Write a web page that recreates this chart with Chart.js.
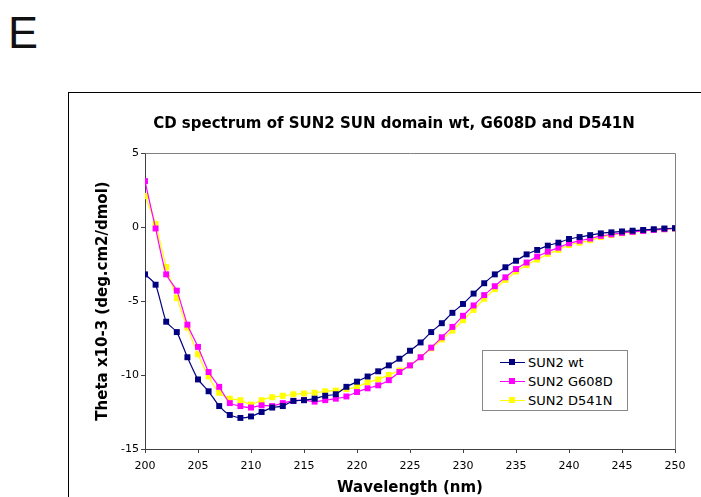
<!DOCTYPE html>
<html>
<head>
<meta charset="utf-8">
<script src="https://cdn.jsdelivr.net/npm/chart.js@4"></script>
<style>
  html, body { margin: 0; padding: 0; background: #fff; }
  #page { position: relative; width: 701px; height: 497px; overflow: hidden; font-family: "DejaVu Sans", Verdana, sans-serif; }
  #panel { position: absolute; left: 8px; top: 10px; font: 45px "Liberation Sans", Arial, sans-serif; font-weight: 400; color: #111; line-height: 1; }
  #frame { position: absolute; left: 68px; top: 92px; width: 700px; height: 500px; border: 1px solid #000; box-sizing: border-box; }
  #chart { position: absolute; left: 0; top: 0; }
  #title { position: absolute; left: 194px; width: 400px; top: 114px; text-align: center; white-space: nowrap; font-size: 15px; font-weight: bold; color: #000; }
  #title span { display: inline-block; margin: 0 -100px; }
  #legend { position: absolute; left: 482px; top: 350px; width: 146px; height: 61px; border: 1px solid #888; background: #fff; box-sizing: border-box; padding-top: 2px; }
  .row { height: 19px; display: flex; align-items: center; font-size: 13px; color: #000; }
  .key { position: relative; width: 25px; height: 1px; margin-left: 17px; margin-right: 3px; }
  .key i { position: absolute; left: 9px; top: -3px; width: 6px; height: 6px; }
</style>
</head>
<body>
<div id="page">
  <div id="panel">E</div>
  <div id="frame"></div>
  <canvas id="chart" width="701" height="497"></canvas>
  <div id="title"><span>CD spectrum of SUN2 SUN domain wt, G608D and D541N</span></div>
  <div id="legend"></div>
</div>
<script>
  // ─── Data ───
  const wavelengths = [200, 201, 202, 203, 204, 205, 206, 207, 208, 209, 210, 211, 212, 213, 214, 215, 216, 217, 218, 219,
    220, 221, 222, 223, 224, 225, 226, 227, 228, 229, 230, 231, 232, 233, 234, 235, 236, 237, 238, 239,
    240, 241, 242, 243, 244, 245, 246, 247, 248, 249, 250];
  const sun2Wt = [-3.2, -3.9, -6.4, -7.1, -8.8, -10.3, -11.1, -12.1, -12.7, -12.9, -12.8, -12.5, -12.2, -12.1, -11.75, -11.7, -11.6, -11.4, -11.3, -10.8,
    -10.45, -10.1, -9.75, -9.35, -8.9, -8.36, -7.8, -7.1, -6.5, -5.8, -5.2, -4.5, -3.8, -3.2, -2.72, -2.28, -1.85, -1.55, -1.26, -1.06,
    -0.81, -0.68, -0.55, -0.43, -0.36, -0.3, -0.25, -0.2, -0.15, -0.1, -0.08];
  const sun2G608D = [3.1, -0.1, -3.2, -4.3, -6.6, -8.1, -9.8, -10.8, -11.9, -12.1, -12.2, -12.05, -12.1, -11.9, -11.75, -11.7, -11.8, -11.7, -11.6, -11.45,
    -11.15, -10.9, -10.7, -10.35, -9.8, -9.35, -8.8, -8.15, -7.45, -6.75, -6.0, -5.3, -4.6, -4.0, -3.4, -2.84, -2.4, -2.0, -1.67, -1.4,
    -1.1, -0.93, -0.78, -0.6, -0.5, -0.4, -0.33, -0.27, -0.2, -0.15, -0.1];
  const sun2D541N = [2.1, 0.2, -2.7, -4.8, -6.8, -8.6, -10.1, -11.2, -11.6, -11.7, -12.0, -11.7, -11.5, -11.4, -11.3, -11.25, -11.2, -11.1, -11.05, -10.95,
    -10.8, -10.5, -10.3, -10.0, -9.7, -9.35, -8.8, -8.2, -7.6, -7.0, -6.3, -5.6, -4.85, -4.2, -3.58, -3.0, -2.57, -2.2, -1.82, -1.55,
    -1.22, -1.06, -0.9, -0.68, -0.55, -0.43, -0.35, -0.28, -0.2, -0.15, -0.1];
  const seriesNames = ['SUN2 wt', 'SUN2 G608D', 'SUN2 D541N'];
  const seriesColors = ['#000080', '#FF00FF', '#FFFF00'];
  const seriesValues = [sun2Wt, sun2G608D, sun2D541N];

  const font = '"DejaVu Sans", Verdana, sans-serif';

  // gray frame round the plot area
  const plotFrame = {
    id: 'plotFrame',
    beforeDatasetsDraw(chart) {
      const a = chart.chartArea, ctx = chart.ctx;
      ctx.save();
      ctx.strokeStyle = '#808080';
      ctx.lineWidth = 1;
      ctx.beginPath();
      ctx.moveTo(Math.round(a.left) + 0.5, Math.round(a.top) + 0.5);
      ctx.lineTo(Math.round(a.right) + 0.5, Math.round(a.top) + 0.5);
      ctx.lineTo(Math.round(a.right) + 0.5, Math.round(a.bottom) + 0.5);
      ctx.stroke();
      ctx.restore();
    }
  };

  new Chart(document.getElementById('chart'), {
    type: 'line',
    data: {
      datasets: seriesValues.map((vals, i) => ({
        label: seriesNames[i],
        data: wavelengths.map((w, j) => ({ x: w, y: vals[j] })),
        borderColor: seriesColors[i],
        backgroundColor: seriesColors[i],
        pointBackgroundColor: seriesColors[i],
        pointBorderWidth: 0,
        pointStyle: 'rect',
        pointRadius: 4.2,
        borderWidth: 1.2,
        tension: 0.2,
        fill: false
      }))
    },
    options: {
      responsive: false, animation: false,
      layout: { padding: { top: 153, left: 94, right: 26, bottom: 0 } },
      plugins: {
        legend: { display: false },
        tooltip: { enabled: false }
      },
      scales: {
        x: {
          type: 'linear', min: 200, max: 250,
          afterFit(scale) { scale.height = 48; },
          ticks: { stepSize: 5, color: '#000', padding: 7, font: { family: font, size: 11 } },
          grid: { drawOnChartArea: false, tickLength: 4, color: '#404040' },
          border: { color: '#404040' },
          title: { display: true, text: 'Wavelength (nm)', color: '#000', padding: 0, font: { family: font, size: 15, weight: 'bold' } }
        },
        y: {
          min: -15, max: 5,
          afterFit(scale) { scale.width = 51; },
          ticks: { stepSize: 5, color: '#000', padding: 2, font: { family: font, size: 11 } },
          grid: { drawOnChartArea: false, tickLength: 4, color: '#404040' },
          border: { color: '#404040' },
          title: { display: true, text: 'Theta x10-3 (deg.cm2/dmol)', color: '#000', padding: 0, font: { family: font, size: 15, weight: 'bold' } }
        }
      }
    },
    plugins: [plotFrame]
  });

  // ─── Legend ───
  document.getElementById('legend').innerHTML = seriesNames.map((n, i) => `
    <div class="row"><span class="key" style="background:${seriesColors[i]}"><i style="background:${seriesColors[i]}"></i></span>${n}</div>
  `).join('');
</script>
</body>
</html>
